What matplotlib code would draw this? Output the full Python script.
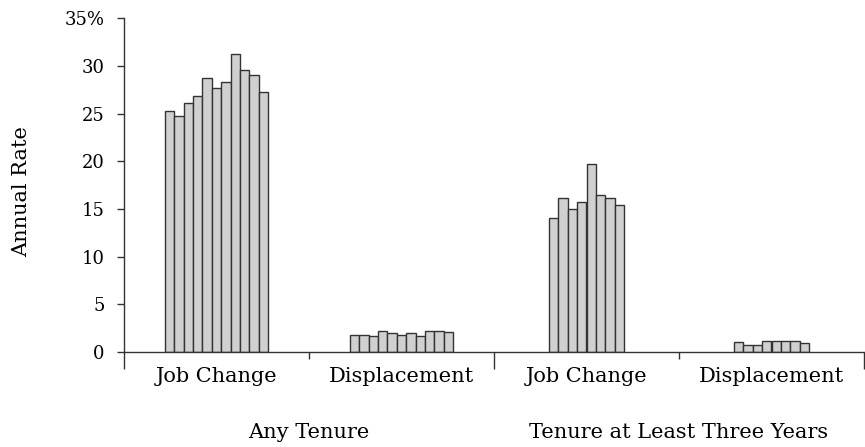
import matplotlib.pyplot as plt
from matplotlib.transforms import blended_transform_factory

plt.rcParams['font.family'] = ['DejaVu Serif']

# annual rates (%) by year within each group
any_job_change = [25.3, 24.8, 26.1, 26.8, 28.7, 27.7, 28.3, 31.3, 29.6, 29.1, 27.3]
any_displacement = [1.83, 1.75, 1.68, 2.24, 1.96, 1.75, 1.96, 1.68, 2.24, 2.24, 2.1]
tenure3_job_change = [14.1, 16.1, 15.05, 15.7, 19.75, 16.5, 16.2, 15.4]
tenure3_displacement = [1.05, 0.7, 0.77, 1.12, 1.12, 1.12, 1.12, 0.98]

groups = [any_job_change, any_displacement, tenure3_job_change, tenure3_displacement]
category_labels = ["Job Change", "Displacement", "Job Change", "Displacement"]
outer_labels = ["Any Tenure", "Tenure at Least Three Years"]
y_ticks = [0, 5, 10, 15, 20, 25, 30, 35]
y_tick_labels = ["0", "5", "10", "15", "20", "25", "30", "35%"]

fig = plt.figure(figsize=(8.65, 4.47), dpi=100)
ax = fig.add_axes([124 / 865, 1 - 352 / 447, 740 / 865, (352 - 18.3) / 447])

bar_w = 0.0505
edge = "#333333"
for k, vals in enumerate(groups):
    n = len(vals)
    center = k + 0.5
    xs = [center + (i - (n - 1) / 2) * bar_w for i in range(n)]
    ax.bar(xs, vals, width=bar_w, color="#d0d0d0", edgecolor=edge, linewidth=1.0)

ax.set_xlim(0, 4)
ax.set_ylim(0, 35)
for s in ["top", "right"]:
    ax.spines[s].set_visible(False)
for s in ["left", "bottom"]:
    ax.spines[s].set_color(edge)
    ax.spines[s].set_linewidth(1.0)

ax.set_yticks(y_ticks)
ax.set_yticklabels(y_tick_labels, fontsize=13)
ax.tick_params(axis="y", direction="out", length=5, width=1.0, color=edge, pad=9)

ax.set_xticks([0, 2, 4])
ax.set_xticklabels([])
ax.set_xticks([1, 3], minor=True)
ax.tick_params(axis="x", which="major", direction="out", length=12.5, width=1.0, color=edge)
ax.tick_params(axis="x", which="minor", direction="out", length=5, width=1.0, color=edge)

trans = blended_transform_factory(ax.transData, ax.transAxes)
for k, lab in enumerate(category_labels):
    ax.annotate(lab, xy=(k + 0.5, 0), xycoords=trans, xytext=(0, -18),
                textcoords="offset points", ha="center", va="center", fontsize=15)
for k, lab in enumerate(outer_labels):
    ax.annotate(lab, xy=(2 * k + 1, 0), xycoords=trans, xytext=(0, -58),
                textcoords="offset points", ha="center", va="center", fontsize=15)

fig.text(22 / 865, 1 - 192 / 447, "Annual Rate", rotation=90,
         ha="center", va="center", fontsize=15)

fig.savefig("out.png", dpi=100)
